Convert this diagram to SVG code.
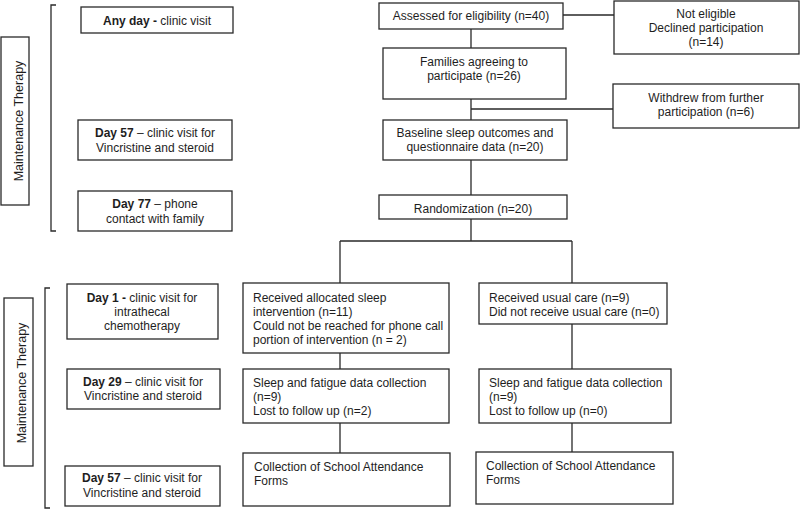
<svg xmlns="http://www.w3.org/2000/svg" width="800" height="509" viewBox="0 0 800 509">
<style>
.b{fill:#fff;stroke:#2a2a2a;stroke-width:1.3}
.l{fill:none;stroke:#2a2a2a;stroke-width:1.3}
text{font-family:"Liberation Sans",Arial,sans-serif;font-size:12px;fill:#1e1e1e}
.c{text-anchor:middle}
.bd{font-weight:bold}
.m{font-size:12.5px}
</style>
<rect width="800" height="509" fill="#fff"/>
<g id="connectors">
<path class="l" d="M471 29V48M563 15H614M471 99V120M471 109H613M471 160V195M471 219V241M340 241H572M340 241V283M572 241V283M340 353V369M572 324V369M340 423V453M572 423V452"/>
<path class="l" d="M56 5H51V231H56M50 288H45V508H50"/>
</g>
<g id="label-top"><rect class="b" x="1" y="37" width="28" height="168"/><text class="m c" transform="translate(23 121) rotate(-90)">Maintenance Therapy</text></g>
<g id="label-bottom"><rect class="b" x="4" y="298" width="29" height="168"/><text class="m c" transform="translate(26 383) rotate(-90)">Maintenance Therapy</text></g>
<g id="anyday"><rect class="b" x="81" y="7" width="152" height="26"/><text class="c" x="157" y="25"><tspan class="bd">Any day -</tspan> clinic visit</text></g>
<g id="day57a"><rect class="b" x="78" y="120" width="154" height="40"/><text class="c" x="155" y="137"><tspan class="bd">Day 57</tspan> – clinic visit for</text><text class="c" x="155" y="152">Vincristine and steroid</text></g>
<g id="day77"><rect class="b" x="78" y="191" width="154" height="40"/><text class="c" x="155" y="208"><tspan class="bd">Day 77</tspan> – phone</text><text class="c" x="155" y="223">contact with family</text></g>
<g id="assessed"><rect class="b" x="379" y="3" width="184" height="26"/><text class="c" x="471" y="20">Assessed for eligibility (n=40)</text></g>
<g id="noteligible"><rect class="b" x="614" y="1" width="185" height="53"/><text class="c" x="706" y="18">Not eligible</text><text class="c" x="706" y="32">Declined participation</text><text class="c" x="706" y="46">(n=14)</text></g>
<g id="families"><rect class="b" x="383" y="48" width="183" height="51"/><text class="c" x="474" y="66">Families agreeing to</text><text class="c" x="474" y="80">participate (n=26)</text></g>
<g id="withdrew"><rect class="b" x="613" y="84" width="186" height="44"/><text class="c" x="706" y="102">Withdrew from further</text><text class="c" x="706" y="116">participation (n=6)</text></g>
<g id="baseline"><rect class="b" x="383" y="120" width="184" height="40"/><text class="c" x="475" y="137">Baseline sleep outcomes and</text><text class="c" x="475" y="151">questionnaire data (n=20)</text></g>
<g id="random"><rect class="b" x="379" y="195" width="188" height="24"/><text class="c" x="473" y="213">Randomization (n=20)</text></g>
<g id="day1"><rect class="b" x="67" y="284" width="151" height="55"/><text class="c" x="142" y="302"><tspan class="bd">Day 1 -</tspan> clinic visit for</text><text class="c" x="142" y="316">intrathecal</text><text class="c" x="142" y="330">chemotherapy</text></g>
<g id="day29"><rect class="b" x="67" y="369" width="153" height="40"/><text class="c" x="143" y="386"><tspan class="bd">Day 29</tspan> – clinic visit for</text><text class="c" x="143" y="400">Vincristine and steroid</text></g>
<g id="day57b"><rect class="b" x="65" y="466" width="155" height="40"/><text class="c" x="142" y="482"><tspan class="bd">Day 57</tspan> – clinic visit for</text><text class="c" x="142" y="497">Vincristine and steroid</text></g>
<g id="recv-int"><rect class="b" x="243" y="283" width="206" height="70"/><text x="253" y="302">Received allocated sleep</text><text x="253" y="316">intervention (n=11)</text><text x="253" y="330">Could not be reached for phone call</text><text x="253" y="344">portion of intervention (n = 2)</text></g>
<g id="recv-usual"><rect class="b" x="479" y="283" width="188" height="41"/><text x="489" y="302">Received usual care (n=9)</text><text x="489" y="316">Did not receive usual care (n=0)</text></g>
<g id="sleep-int"><rect class="b" x="243" y="369" width="206" height="54"/><text x="253" y="387">Sleep and fatigue data collection</text><text x="253" y="401">(n=9)</text><text x="253" y="415">Lost to follow up (n=2)</text></g>
<g id="sleep-usual"><rect class="b" x="479" y="369" width="192" height="54"/><text x="489" y="387">Sleep and fatigue data collection</text><text x="489" y="401">(n=9)</text><text x="489" y="415">Lost to follow up (n=0)</text></g>
<g id="school-int"><rect class="b" x="243" y="453" width="207" height="53"/><text x="254" y="471">Collection of School Attendance</text><text x="254" y="485">Forms</text></g>
<g id="school-usual"><rect class="b" x="476" y="452" width="197" height="52"/><text x="486" y="470">Collection of School Attendance</text><text x="486" y="484">Forms</text></g>
</svg>
